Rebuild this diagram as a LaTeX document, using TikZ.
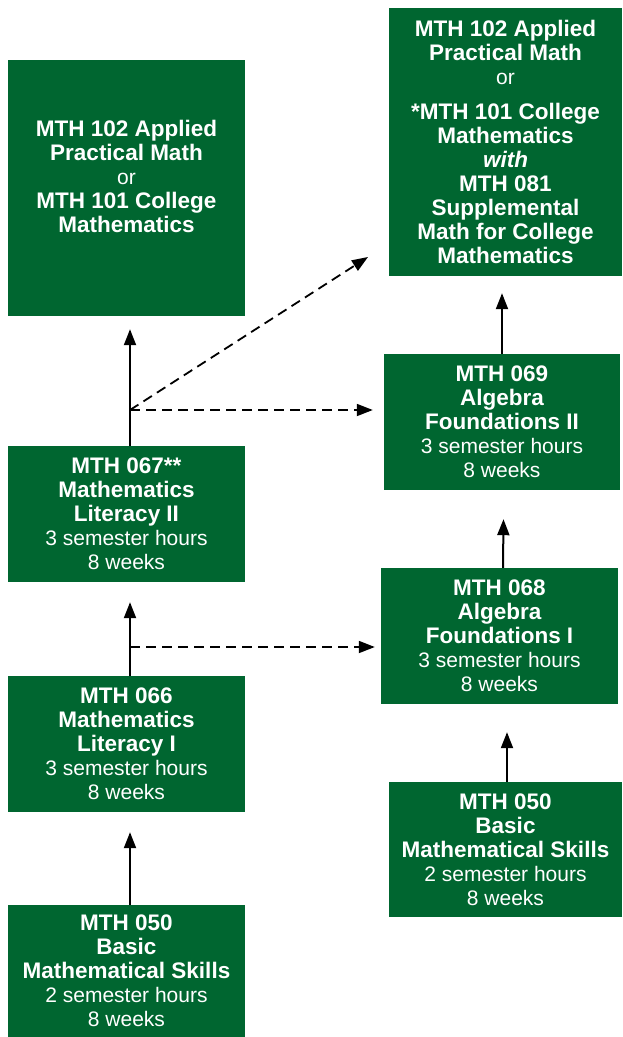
\documentclass[tikz,border=0pt]{standalone}
\usepackage{fontspec}
\setmainfont{Liberation Sans}
\usetikzlibrary{arrows.meta}
\definecolor{boxgreen}{RGB}{0,102,48}
\newcommand{\bl}[1]{{\fontsize{22.5}{24}\selectfont\bfseries #1}}
\newcommand{\rl}[1]{{\fontsize{21}{24}\selectfont #1}}
\begin{document}
\begin{tikzpicture}[x=1pt,y=-1pt,
  box/.style={fill=boxgreen, text=white, align=center, inner sep=0pt,
    font=\fontsize{21}{24}\selectfont},
  txt/.style={text=white, align=center, inner sep=0pt, font=\fontsize{21}{24}\selectfont},
  arr/.style={line width=2pt, -{Triangle[length=16pt,width=12pt]}},
  darr/.style={line width=1.8pt, dash pattern=on 10pt off 6pt, -{Triangle[length=16pt,width=12pt]}}]
\useasboundingbox (0,0) rectangle (622,1037);

% left column
\node[box, minimum width=237pt, minimum height=256pt] (A) at (126.5,188) {};
\node[txt] (At) at ([yshift=12pt]A.center)
  {\bl{MTH 102 Applied}\\ \bl{Practical Math}\\ \rl{or}\\ \bl{MTH 101 College}\\ \bl{Mathematics}};

\node[box, minimum width=237pt, minimum height=136pt] (B) at (126.5,514)
  {\bl{MTH 067**}\\ \bl{Mathematics}\\ \bl{Literacy II}\\ \rl{3 semester hours}\\ \rl{8 weeks}};

\node[box, minimum width=237pt, minimum height=136pt] (C) at (126.5,744)
  {\bl{MTH 066}\\ \bl{Mathematics}\\ \bl{Literacy I}\\ \rl{3 semester hours}\\ \rl{8 weeks}};

\node[box, minimum width=237pt, minimum height=132pt] (D) at (126.5,971)
  {\bl{MTH 050}\\ \bl{Basic}\\ \bl{Mathematical Skills}\\ \rl{2 semester hours}\\ \rl{8 weeks}};

% right column
\node[box, minimum width=233pt, minimum height=268pt] (E) at (505.5,142)
  {\bl{MTH 102 Applied}\\ \bl{Practical Math}\\ \rl{or}\\[11pt] \bl{*MTH 101 College}\\ \bl{Mathematics}\\ \bl{\itshape with}\\ \bl{MTH 081}\\ \bl{Supplemental}\\ \bl{Math for College}\\ \bl{Mathematics}};

\node[box, minimum width=236pt, minimum height=136pt] (F) at (502,422)
  {\bl{MTH 069}\\ \bl{Algebra}\\ \bl{Foundations II}\\ \rl{3 semester hours}\\ \rl{8 weeks}};

\node[box, minimum width=237pt, minimum height=136pt] (G) at (499.5,636)
  {\bl{MTH 068}\\ \bl{Algebra}\\ \bl{Foundations I}\\ \rl{3 semester hours}\\ \rl{8 weeks}};

\node[box, minimum width=233pt, minimum height=135pt] (H) at (505.5,849.5)
  {\bl{MTH 050}\\ \bl{Basic}\\ \bl{Mathematical Skills}\\ \rl{2 semester hours}\\ \rl{8 weeks}};

% solid arrows, left
\draw[arr] ([xshift=3.5pt]D.north) -- ([xshift=3.5pt,yshift=-20pt]C.south);
\draw[arr] ([xshift=3.5pt]C.north) -- ([xshift=3.5pt,yshift=-20pt]B.south);
\draw[arr] ([xshift=3.5pt]B.north) -- ([xshift=3.5pt,yshift=-13pt]A.south);

% solid arrows, right
\draw[arr] (F.north) -- ([xshift=-3.5pt,yshift=-17pt]E.south);
\draw[arr] ([xshift=3.5pt]G.north) -- ([xshift=1.5pt,yshift=-29pt]F.south);
\draw[arr] ([xshift=1.5pt]H.north) -- ([xshift=7.5pt,yshift=-28pt]G.south);

% dashed arrows
\coordinate (j1) at (130,410);
\coordinate (j2) at (130,647);
\coordinate (tE) at (368,257);
\draw[darr] (j1) -- ([xshift=-11pt]j1 -| F.west);
\draw[darr] (j1) -- (tE);
\draw[darr] (j2) -- ([xshift=-6pt]j2 -| G.west);
\end{tikzpicture}
\end{document}
